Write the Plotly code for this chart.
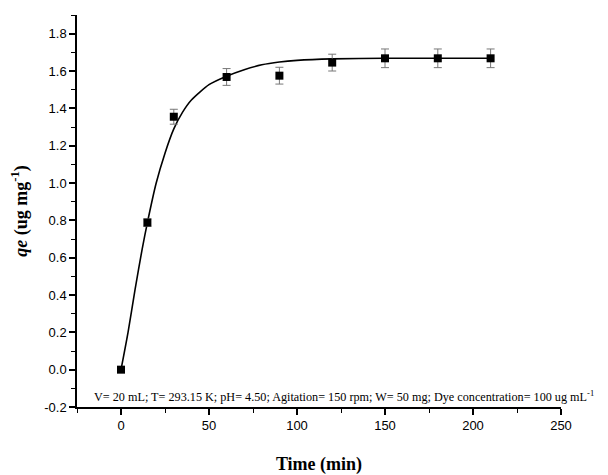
import plotly.graph_objects as go

# Experimental data
time_min = [0, 15, 30, 60, 90, 120, 150, 180, 210]
qe_vals = [0.0, 0.788, 1.355, 1.568, 1.575, 1.645, 1.668, 1.668, 1.668]
qe_err = [0.0, 0.02, 0.04, 0.045, 0.045, 0.045, 0.05, 0.05, 0.05]

# Fitted curve
fit_t = [0, 4, 8, 12, 15, 20, 25, 30, 35, 40, 50, 60, 70, 80, 90, 100, 120, 150, 180, 210]
fit_q = [0, 0.2, 0.43, 0.645, 0.788, 1.0, 1.16, 1.29, 1.38, 1.445, 1.527, 1.572,
         1.607, 1.633, 1.648, 1.657, 1.665, 1.668, 1.668, 1.668]

x_ticks = [0, 50, 100, 150, 200, 250]
y_ticks = [-0.2, 0.0, 0.2, 0.4, 0.6, 0.8, 1.0, 1.2, 1.4, 1.6, 1.8]
y_tick_labels = ["-0.2", "0.0", "0.2", "0.4", "0.6", "0.8", "1.0", "1.2", "1.4", "1.6", "1.8"]

note = ("V= 20 mL; T= 293.15 K; pH= 4.50; Agitation= 150 rpm; W= 50 mg; "
        "Dye concentration= 100 ug mL<sup>-1</sup>")

fig = go.Figure()
fig.add_trace(go.Scatter(x=fit_t, y=fit_q, mode="lines",
                         line=dict(color="black", width=1.6, shape="spline", smoothing=0.6),
                         hoverinfo="skip", showlegend=False))
fig.add_trace(go.Scatter(x=time_min, y=qe_vals, mode="markers",
                         marker=dict(symbol="square", size=8, color="black"),
                         error_y=dict(type="data", array=qe_err, visible=True,
                                      color="#777777", thickness=1, width=4),
                         showlegend=False))

axis_font = dict(family="Liberation Sans, Arial, sans-serif", size=13, color="black")
title_font = dict(family="Liberation Serif, Times New Roman, serif", size=18, color="black")

# page body has an 8px default margin, so figure is sized to fit the window
fig.update_layout(
    width=600, height=467,
    margin=dict(l=69, r=47, t=7, b=68),
    paper_bgcolor="white", plot_bgcolor="white",
    xaxis=dict(range=[-25, 250], tickvals=x_ticks, showgrid=False, zeroline=False,
               automargin=False,
               showline=True, linecolor="black", linewidth=1.5,
               ticks="outside", ticklen=6, tickwidth=1.5, tickcolor="black",
               minor=dict(dtick=25, tick0=0, ticks="outside", ticklen=4, tickwidth=1, tickcolor="black"),
               tickfont=axis_font,
               title=dict(text="<b>Time (min)</b>", font=title_font, standoff=27)),
    yaxis=dict(range=[-0.2, 1.9], tickvals=y_ticks, ticktext=y_tick_labels,
               showgrid=False, zeroline=False,
               automargin=False,
               showline=True, linecolor="black", linewidth=1.5,
               ticks="outside", ticklen=6, tickwidth=1.5, tickcolor="black",
               minor=dict(dtick=0.1, tick0=0, ticks="outside", ticklen=4, tickwidth=1, tickcolor="black"),
               tickfont=axis_font,
               title=dict(text="<b><i>qe</i> (ug mg<sup>-1</sup>)</b>", font=title_font, standoff=15)),
    annotations=[dict(text=note, xref="paper", yref="y", x=(92 - 77) / 484, y=-0.14,
                      xanchor="left", yanchor="middle", showarrow=False,
                      font=dict(family="Liberation Serif, Times New Roman, serif", size=12.2, color="black"))],
)

fig.write_html("out.html")
